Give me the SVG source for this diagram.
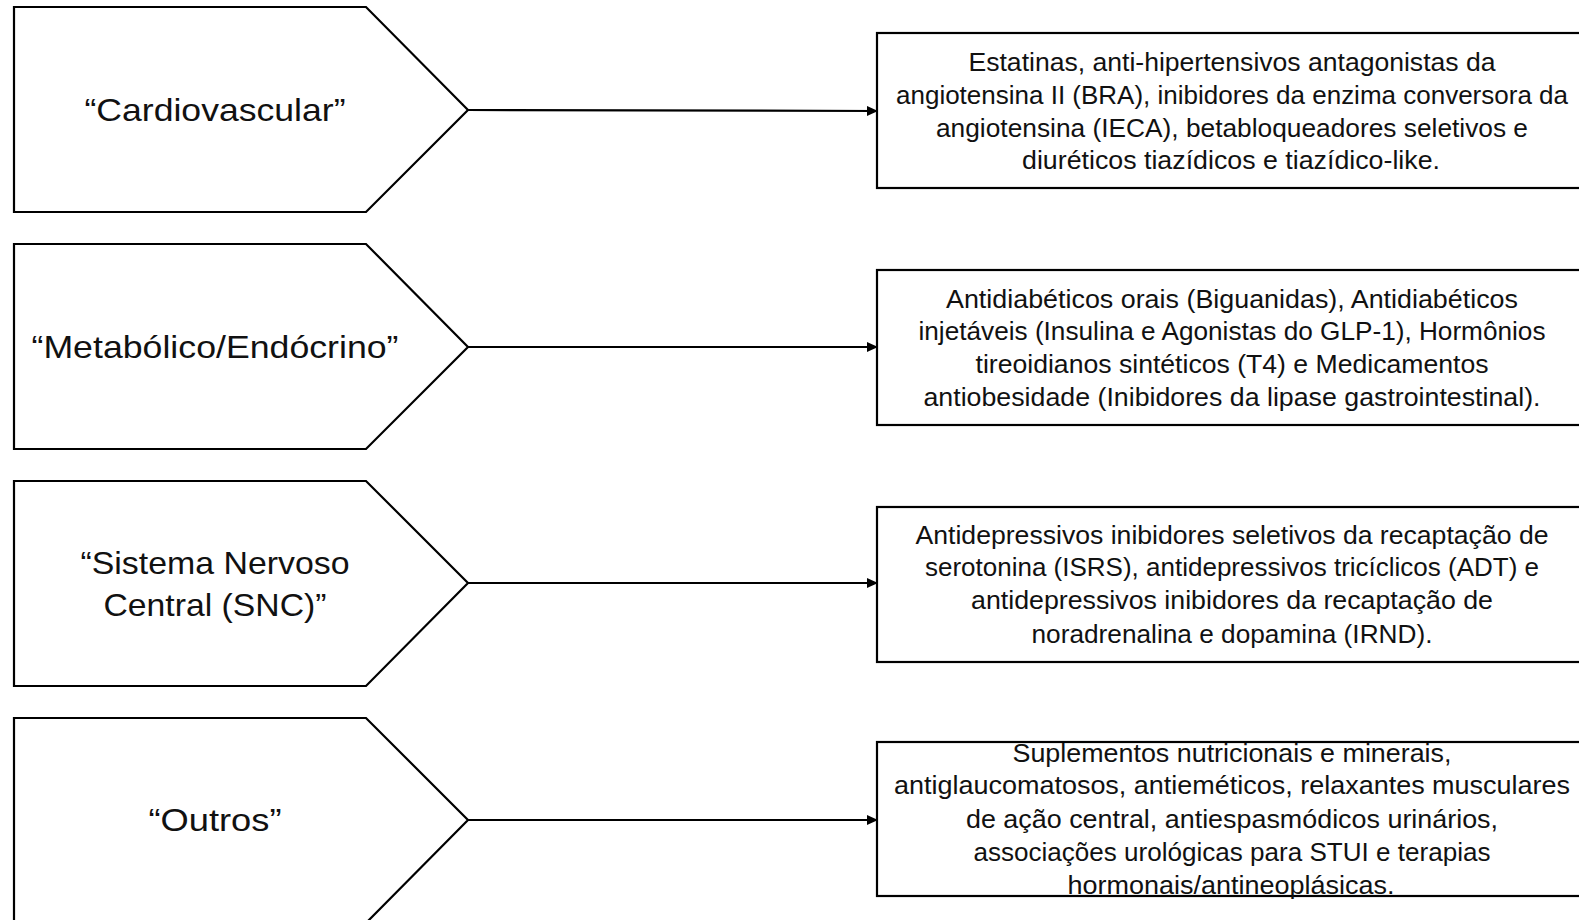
<svg xmlns="http://www.w3.org/2000/svg" width="1579" height="920" viewBox="0 0 1579 920">
<style>
.shape{fill:#fff;stroke:#000;stroke-width:2.2}
.box{fill:#fff;stroke:#000;stroke-width:2.2}
.lbl{font-family:"Liberation Sans",Arial,sans-serif;font-size:32px;fill:#111;text-anchor:middle}
.txt{font-family:"Liberation Sans",Arial,sans-serif;font-size:25px;fill:#111;text-anchor:middle}
.conn{stroke:#000;stroke-width:2.2;fill:none;marker-end:url(#ah)}
</style>
<defs>
<marker id="ah" markerWidth="11" markerHeight="10" refX="10" refY="5" orient="auto" markerUnits="userSpaceOnUse">
<path d="M0,0 L11,5 L0,10 Z" fill="#000"/>
</marker>
</defs>
<rect width="1579" height="920" fill="#fff"/>

<g id="cat-cardio">
<path class="shape" d="M14,7 H366 L468,110 L366,212 H14 Z"/>
<text class="lbl" x="215" y="121" textLength="261" lengthAdjust="spacingAndGlyphs">“Cardiovascular”</text>
</g>
<g id="cat-metab">
<path class="shape" d="M14,244 H366 L468,347 L366,449 H14 Z"/>
<text class="lbl" x="215" y="358" textLength="367" lengthAdjust="spacingAndGlyphs">“Metabólico/Endócrino”</text>
</g>
<g id="cat-snc">
<path class="shape" d="M14,481 H366 L468,583 L366,686 H14 Z"/>
<text class="lbl" x="215" y="574" textLength="269" lengthAdjust="spacingAndGlyphs">“Sistema Nervoso</text>
<text class="lbl" x="215" y="616" textLength="223" lengthAdjust="spacingAndGlyphs">Central (SNC)”</text>
</g>
<g id="cat-outros">
<path class="shape" d="M14,718 H366 L468,820 L366,923 H14 Z"/>
<text class="lbl" x="215" y="831" textLength="133" lengthAdjust="spacingAndGlyphs">“Outros”</text>
</g>

<g id="connectors">
<line class="conn" x1="468" y1="110" x2="877" y2="111"/>
<line class="conn" x1="468" y1="347" x2="877" y2="347"/>
<line class="conn" x1="468" y1="583" x2="877" y2="583"/>
<line class="conn" x1="468" y1="820" x2="877" y2="820"/>
</g>

<g id="box-cardio">
<rect class="box" x="877" y="33" width="720" height="155"/>
<text class="txt" x="1232" y="71" textLength="527" lengthAdjust="spacingAndGlyphs">Estatinas, anti-hipertensivos antagonistas da</text>
<text class="txt" x="1232" y="104" textLength="672" lengthAdjust="spacingAndGlyphs">angiotensina II (BRA), inibidores da enzima conversora da</text>
<text class="txt" x="1232" y="137" textLength="592" lengthAdjust="spacingAndGlyphs">angiotensina (IECA), betabloqueadores seletivos e</text>
<text class="txt" x="1231" y="169" textLength="418" lengthAdjust="spacingAndGlyphs">diuréticos tiazídicos e tiazídico-like.</text>
</g>
<g id="box-metab">
<rect class="box" x="877" y="270" width="720" height="155"/>
<text class="txt" x="1232" y="308" textLength="572" lengthAdjust="spacingAndGlyphs">Antidiabéticos orais (Biguanidas), Antidiabéticos</text>
<text class="txt" x="1232" y="340" textLength="627" lengthAdjust="spacingAndGlyphs">injetáveis (Insulina e Agonistas do GLP-1), Hormônios</text>
<text class="txt" x="1232" y="373" textLength="513" lengthAdjust="spacingAndGlyphs">tireoidianos sintéticos (T4) e Medicamentos</text>
<text class="txt" x="1232" y="406" textLength="617" lengthAdjust="spacingAndGlyphs">antiobesidade (Inibidores da lipase gastrointestinal).</text>
</g>
<g id="box-snc">
<rect class="box" x="877" y="507" width="720" height="155"/>
<text class="txt" x="1232" y="544" textLength="633" lengthAdjust="spacingAndGlyphs">Antidepressivos inibidores seletivos da recaptação de</text>
<text class="txt" x="1232" y="576" textLength="614" lengthAdjust="spacingAndGlyphs">serotonina (ISRS), antidepressivos tricíclicos (ADT) e</text>
<text class="txt" x="1232" y="609" textLength="522" lengthAdjust="spacingAndGlyphs">antidepressivos inibidores da recaptação de</text>
<text class="txt" x="1232" y="643" textLength="401" lengthAdjust="spacingAndGlyphs">noradrenalina e dopamina (IRND).</text>
</g>
<g id="box-outros">
<rect class="box" x="877" y="742" width="720" height="154"/>
<text class="txt" x="1232" y="762" textLength="439" lengthAdjust="spacingAndGlyphs">Suplementos nutricionais e minerais,</text>
<text class="txt" x="1232" y="794" textLength="676" lengthAdjust="spacingAndGlyphs">antiglaucomatosos, antieméticos, relaxantes musculares</text>
<text class="txt" x="1232" y="828" textLength="532" lengthAdjust="spacingAndGlyphs">de ação central, antiespasmódicos urinários,</text>
<text class="txt" x="1232" y="861" textLength="517" lengthAdjust="spacingAndGlyphs">associações urológicas para STUI e terapias</text>
<text class="txt" x="1231" y="894" textLength="327" lengthAdjust="spacingAndGlyphs">hormonais/antineoplásicas.</text>
</g>
</svg>
